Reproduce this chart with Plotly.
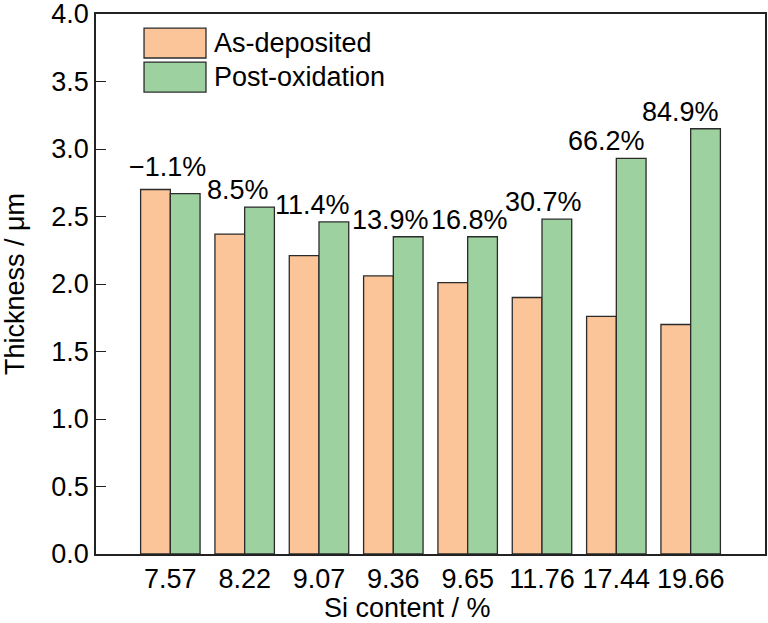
import plotly.graph_objects as go

si_content = ["7.57", "8.22", "9.07", "9.36", "9.65", "11.76", "17.44", "19.66"]
as_deposited = [2.70, 2.37, 2.21, 2.06, 2.01, 1.90, 1.76, 1.70]
post_oxidation = [2.67, 2.57, 2.46, 2.35, 2.35, 2.48, 2.93, 3.15]
change_labels = ["\u22121.1%", "8.5%", "11.4%", "13.9%", "16.8%", "30.7%", "66.2%", "84.9%"]

# label styling offsets (pixels)
label_xshift = [-3, -7, -7, -3, 2, 1, -10, -10]
label_yshift = [6, 0, 0, 0, 0, 0, 0, 0]

FONT = "Liberation Sans, Arial, sans-serif"
FS = 27
ORANGE = "#FBC499"
GREEN = "#9DD2A0"
EDGE = "#2b2b2b"

fig = go.Figure()
fig.add_trace(go.Bar(x=si_content, y=as_deposited, name="As-deposited",
                     marker=dict(color=ORANGE, line=dict(color=EDGE, width=1.3)),
                     showlegend=False))
fig.add_trace(go.Bar(x=si_content, y=post_oxidation, name="Post-oxidation",
                     marker=dict(color=GREEN, line=dict(color=EDGE, width=1.3)),
                     showlegend=False))

for i, (cat, a, p, lab) in enumerate(zip(si_content, as_deposited, post_oxidation, change_labels)):
    # category axis: position by category index
    fig.add_annotation(x=si_content.index(cat), y=max(a, p), text=lab, showarrow=False,
                       xanchor="center", yanchor="bottom",
                       xshift=label_xshift[i], yshift=label_yshift[i],
                       font=dict(family=FONT, size=FS, color="black"))

# legend (drawn manually to match large swatches)
legend_items = [("As-deposited", ORANGE), ("Post-oxidation", GREEN)]
for k, (name, col) in enumerate(legend_items):
    y1 = 0.974 - k * 0.063
    y0 = y1 - 0.0555
    fig.add_shape(type="rect", xref="paper", yref="paper",
                  x0=0.0718, x1=0.1644, y0=y0, y1=y1,
                  fillcolor=col, line=dict(color=EDGE, width=1.3))
    fig.add_annotation(xref="paper", yref="paper", x=0.174, y=(y0 + y1) / 2,
                       text=name, showarrow=False, xanchor="left", yanchor="middle",
                       font=dict(family=FONT, size=FS, color="black"))

# axis titles
fig.add_annotation(xref="paper", yref="paper", x=0.4656, y=0, yshift=-54,
                   text="Si content / %", showarrow=False,
                   xanchor="center", yanchor="middle",
                   font=dict(family=FONT, size=FS, color="black"))
fig.add_annotation(xref="paper", yref="paper", x=0, y=0.5, xshift=-81,
                   text="Thickness / \u03bcm", showarrow=False, textangle=-90,
                   xanchor="center", yanchor="middle",
                   font=dict(family=FONT, size=FS, color="black"))

fig.update_layout(
    width=768, height=623,
    margin=dict(l=96, r=3, t=14, b=69),
    paper_bgcolor="white", plot_bgcolor="white",
    barmode="group", bargap=0.2, bargroupgap=0,
    font=dict(family=FONT, size=FS, color="black"),
    xaxis=dict(type="category", range=[-1, 8], showline=True, mirror=True,
               linecolor="#222", linewidth=1.5, ticks="", showgrid=False,
               automargin=False,
               tickfont=dict(family=FONT, size=FS), zeroline=False),
    yaxis=dict(range=[0, 4], tickvals=[0, 0.5, 1, 1.5, 2, 2.5, 3, 3.5, 4],
               tickformat=".1f", showline=True, mirror=True,
               linecolor="#222", linewidth=1.5, ticks="inside", ticklen=10,
               tickcolor="#222", tickwidth=1.2, showgrid=False, zeroline=False,
               automargin=False, ticklabeloverflow="allow",
               tickfont=dict(family=FONT, size=FS)),
)

fig.write_html("out.html", config={"displayModeBar": False},
               post_script="document.body.style.margin='0';document.body.style.overflow='hidden';")
